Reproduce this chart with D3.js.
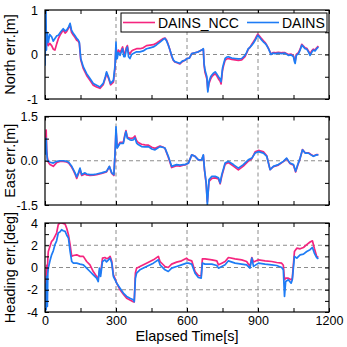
<!DOCTYPE html>
<html><head><meta charset="utf-8">
<script src="https://cdn.jsdelivr.net/npm/d3@7"></script>
<style>
html,body{margin:0;padding:0;background:#fff;}
svg{display:block;font-family:"Liberation Sans",Arial,sans-serif;}
</style></head>
<body>
<svg id="c" width="347" height="347"></svg>
<script>
const seriesNames = ["DAINS_NCC", "DAINS"];
const seriesColors = ["#f5257f", "#1e7cf5"];
const xTicks = [0, 150, 300, 450, 600, 750, 900, 1050, 1200];
const xTickLabels = ["0", "", "300", "", "600", "", "900", "", "1200"];
const xGrid = [300, 600, 900];

const northNCC = [[0,0.1],[2,0.2],[4,0.4],[6,0.2],[9,0.3],[14,0.2],[20,0.25],[28,0.2],[35,0.12],[42,0.1],[50,0.25],[56,0.35],[65,0.45],[77,0.55],[85,0.48],[92,0.52],[100,0.6],[106,0.66],[112,0.5],[120,0.43],[127,0.38],[134,0.32],[140,0.3],[145,0.25],[151,-0.12],[162,-0.32],[176,-0.47],[190,-0.58],[204,-0.69],[218,-0.73],[232,-0.76],[246,-0.68],[255,-0.53],[260,-0.42],[268,-0.53],[277,-0.68],[289,-0.62],[296,-0.3],[300,0.2],[303,-0.05],[305,-0.02],[310,0.1],[317,0.05],[322,0.1],[328,0.17],[333,0.03],[338,0.02],[343,0.15],[348,0.2],[353,0.05],[359,0.02],[366,0.08],[373,0.1],[387,0.13],[401,0.13],[415,0.15],[429,0.2],[444,0.21],[458,0.22],[472,0.26],[486,0.31],[500,0.36],[507,0.37],[514,0.32],[521,0.22],[528,0.1],[535,-0.04],[542,-0.13],[549,-0.17],[560,-0.19],[570,-0.21],[580,-0.16],[591,-0.13],[600,-0.09],[610,-0.08],[620,0.02],[634,0.04],[648,0.06],[662,0.1],[669,0.12],[672,-0.22],[676,-0.4],[684,-0.55],[688,-0.8],[693,-0.65],[700,-0.55],[705,-0.5],[712,-0.46],[719,-0.43],[726,-0.48],[733,-0.55],[740,-0.6],[744,-0.66],[750,-0.36],[755,-0.24],[761,-0.13],[768,-0.1],[775,-0.09],[789,-0.11],[803,-0.12],[817,-0.13],[831,-0.12],[845,-0.05],[852,0.03],[859,0.12],[866,0.16],[874,0.23],[881,0.29],[888,0.35],[894,0.41],[899,0.46],[907,0.41],[916,0.35],[923,0.31],[930,0.27],[937,0.21],[944,0.14],[950,0.07],[955,0.01],[963,0.04],[972,0.04],[986,0.05],[1000,0.04],[1014,0.04],[1028,0.0],[1040,0.01],[1050,-0.03],[1054,-0.12],[1057,-0.15],[1062,0.0],[1071,0.04],[1078,0.12],[1085,0.23],[1092,0.19],[1099,0.15],[1106,0.14],[1113,0.08],[1120,0.02],[1127,0.08],[1134,0.12],[1141,0.1],[1148,0.15],[1155,0.19]];

const northDAINS = [[0,-0.25],[2,0.3],[4,1.0],[6,0.1],[9,0.5],[14,0.28],[20,0.45],[28,0.4],[35,0.3],[42,0.36],[50,0.42],[56,0.43],[65,0.5],[77,0.58],[85,0.53],[92,0.55],[100,0.62],[106,0.7],[112,0.55],[120,0.47],[127,0.42],[134,0.36],[140,0.33],[145,0.28],[151,-0.09],[162,-0.28],[176,-0.43],[190,-0.54],[204,-0.65],[218,-0.69],[232,-0.73],[246,-0.65],[255,-0.5],[260,-0.39],[268,-0.5],[277,-0.65],[289,-0.58],[296,-0.24],[300,0.28],[303,-0.1],[305,-0.09],[310,0.05],[317,-0.02],[322,0.05],[328,0.13],[333,-0.05],[338,-0.05],[343,0.1],[348,0.17],[353,-0.05],[359,-0.09],[366,0.0],[373,0.02],[387,0.06],[401,0.06],[415,0.08],[429,0.13],[444,0.15],[458,0.17],[472,0.22],[486,0.28],[500,0.34],[507,0.36],[514,0.3],[521,0.21],[528,0.1],[535,-0.02],[542,-0.12],[549,-0.16],[560,-0.18],[570,-0.2],[580,-0.15],[591,-0.13],[600,-0.09],[610,-0.08],[620,0.02],[634,0.04],[648,0.06],[662,0.1],[669,0.13],[672,-0.2],[676,-0.35],[684,-0.5],[688,-0.84],[693,-0.61],[700,-0.5],[705,-0.46],[712,-0.42],[719,-0.39],[726,-0.44],[733,-0.5],[740,-0.55],[744,-0.61],[750,-0.31],[755,-0.2],[761,-0.09],[768,-0.06],[775,-0.05],[789,-0.08],[803,-0.09],[817,-0.1],[831,-0.09],[845,-0.02],[852,0.05],[859,0.13],[866,0.16],[874,0.21],[881,0.26],[888,0.32],[894,0.38],[899,0.43],[907,0.38],[916,0.32],[923,0.28],[930,0.25],[937,0.2],[944,0.13],[950,0.06],[955,0.0],[963,0.03],[972,0.02],[986,0.03],[1000,0.02],[1014,0.03],[1028,-0.02],[1040,-0.01],[1050,-0.05],[1054,-0.16],[1057,-0.2],[1062,-0.02],[1071,0.02],[1078,0.1],[1085,0.21],[1092,0.17],[1099,0.13],[1106,0.12],[1113,0.06],[1120,-0.02],[1127,0.05],[1134,0.1],[1141,0.08],[1148,0.13],[1155,0.17]];

const eastNCC = [[0,0.3],[3,0.6],[5,1.04],[7,0.4],[10,0.1],[14,-0.05],[21,-0.13],[35,-0.19],[50,-0.06],[63,-0.02],[77,-0.02],[92,-0.04],[100,-0.08],[113,-0.22],[120,-0.33],[127,-0.45],[134,-0.6],[141,-0.45],[148,-0.3],[155,-0.5],[169,-0.45],[176,-0.48],[190,-0.5],[204,-0.49],[218,-0.47],[239,-0.43],[260,-0.38],[272,-0.2],[282,-0.43],[291,-0.5],[297,0.4],[300,1.05],[305,0.45],[317,0.62],[331,0.63],[338,0.9],[342,1.02],[348,0.8],[359,0.76],[366,0.76],[373,0.78],[380,0.84],[387,0.68],[394,0.62],[408,0.56],[422,0.54],[437,0.53],[451,0.46],[465,0.42],[486,0.5],[500,0.46],[507,0.42],[521,0.12],[535,-0.23],[556,-0.17],[570,-0.18],[584,-0.15],[592,-0.14],[606,-0.08],[620,0.2],[634,0.15],[648,0.03],[662,0.03],[669,0.18],[674,-0.32],[681,-0.78],[686,-1.4],[693,-0.7],[705,-0.6],[719,-0.58],[733,-0.62],[740,-0.78],[747,-0.52],[761,-0.12],[775,-0.06],[796,-0.18],[817,-0.31],[838,-0.18],[859,-0.01],[874,0.07],[888,0.3],[902,0.35],[923,0.3],[937,0.17],[951,-0.3],[965,-0.2],[986,-0.15],[1007,-0.03],[1021,0.07],[1035,-0.09],[1050,-0.15],[1059,-0.38],[1068,-0.15],[1078,0.08],[1088,0.38],[1099,0.27],[1113,0.27],[1124,0.21],[1134,0.16],[1148,0.21],[1155,0.21]];

const eastDAINS = [[0,0.2],[3,0.5],[5,0.76],[7,0.31],[10,0.03],[14,0.0],[21,-0.05],[35,-0.08],[50,-0.02],[63,0.0],[77,0.0],[92,-0.02],[100,-0.05],[113,-0.19],[120,-0.3],[127,-0.41],[134,-0.55],[141,-0.41],[148,-0.25],[155,-0.47],[169,-0.41],[176,-0.45],[190,-0.47],[204,-0.47],[218,-0.45],[239,-0.41],[260,-0.36],[272,-0.19],[282,-0.41],[291,-0.47],[297,0.43],[300,1.15],[305,0.43],[317,0.59],[331,0.59],[338,0.85],[342,0.99],[348,0.76],[359,0.71],[366,0.7],[373,0.71],[380,0.78],[387,0.6],[394,0.55],[408,0.48],[422,0.47],[437,0.48],[451,0.4],[465,0.37],[486,0.48],[500,0.45],[507,0.43],[521,0.15],[535,-0.19],[556,-0.13],[570,-0.15],[584,-0.13],[592,-0.13],[606,-0.08],[620,0.2],[634,0.15],[648,0.03],[662,0.03],[669,0.2],[674,-0.3],[681,-0.75],[686,-1.48],[693,-0.64],[705,-0.53],[719,-0.53],[733,-0.58],[740,-0.75],[747,-0.47],[761,-0.08],[775,-0.02],[796,-0.13],[817,-0.25],[838,-0.13],[859,0.03],[874,0.09],[888,0.26],[902,0.31],[923,0.26],[937,0.15],[951,-0.3],[965,-0.19],[986,-0.13],[1007,-0.02],[1021,0.09],[1035,-0.08],[1050,-0.13],[1059,-0.36],[1068,-0.13],[1078,0.09],[1088,0.37],[1099,0.26],[1113,0.26],[1124,0.2],[1134,0.15],[1148,0.2],[1155,0.2]];

const headingNCC = [[0,-4],[3,-2],[5,-1],[7,0.2],[10,-0.5],[12,0.8],[14,1.44],[21,1.9],[28,2.35],[35,2.5],[42,2.8],[49,3.1],[56,3.85],[63,4.0],[70,4.0],[77,3.95],[85,3.9],[92,3.5],[99,2.95],[106,2.05],[113,1.0],[120,1.08],[134,1.14],[148,1.0],[162,1.0],[176,0.54],[190,0.24],[204,-0.36],[218,-0.81],[225,-0.96],[230,-0.3],[235,-0.5],[243,0.84],[253,0.9],[260,0.8],[268,0.84],[275,1.0],[282,0.55],[289,-0.66],[296,-1.0],[303,-1.41],[317,-2.0],[331,-2.4],[345,-2.77],[359,-2.92],[373,-3.07],[377,-3.1],[382,-0.5],[387,-0.06],[401,0.09],[429,0.39],[458,0.69],[479,1.0],[486,0.54],[507,0.09],[521,0.0],[535,0.3],[556,0.48],[577,0.6],[598,0.84],[606,0.69],[620,0.6],[634,-0.36],[648,-0.72],[660,-0.75],[665,0.78],[676,0.78],[705,0.69],[726,0.6],[733,0.24],[747,0.39],[761,0.54],[775,0.9],[803,0.78],[831,0.69],[852,0.54],[866,0.09],[874,0.9],[881,0.5],[902,0.69],[930,0.6],[958,0.54],[979,0.45],[1000,0.39],[1007,0.2],[1012,-1.1],[1017,-0.96],[1028,-0.96],[1040,-1.1],[1045,-0.96],[1054,1.44],[1064,1.74],[1078,1.68],[1092,1.8],[1106,2.05],[1120,2.29],[1130,2.4],[1138,1.74],[1148,1.0],[1155,0.9]];

const headingDAINS = [[0,-4],[3,-1.5],[5,-3.8],[7,-0.8],[10,-3.5],[12,-0.5],[14,-0.06],[21,0.6],[28,1.14],[35,1.5],[42,2.05],[49,2.4],[56,3.1],[63,3.2],[70,3.4],[77,3.3],[85,3.25],[92,2.9],[99,2.65],[106,1.44],[113,0.54],[120,0.39],[134,0.39],[148,0.3],[162,0.24],[176,-0.06],[190,-0.36],[204,-0.66],[218,-0.96],[225,-1.26],[230,-0.06],[235,-0.8],[243,0.54],[253,0.69],[260,0.5],[268,0.69],[275,0.84],[282,0.4],[289,-0.81],[296,-1.1],[303,-1.41],[317,-1.86],[331,-2.3],[345,-2.6],[359,-2.77],[373,-2.9],[377,-3.07],[382,-0.96],[387,-0.51],[401,-0.21],[429,0.09],[458,0.39],[479,0.69],[486,0.24],[507,-0.21],[521,-0.36],[535,-0.06],[556,0.09],[577,0.24],[598,0.39],[606,0.39],[620,0.3],[634,-0.51],[648,-0.9],[660,-0.96],[665,0.39],[676,0.3],[705,0.3],[726,0.18],[733,-0.06],[747,0.09],[761,0.24],[775,0.6],[803,0.39],[831,0.3],[852,0.24],[866,-0.06],[874,0.84],[881,0.1],[902,0.39],[930,0.3],[958,0.24],[979,0.18],[1000,0],[1007,-0.21],[1012,-2.6],[1017,-1.26],[1028,-1.1],[1040,-1.41],[1045,-1.1],[1054,1.0],[1064,0.84],[1078,1.14],[1092,1.2],[1106,1.44],[1120,1.6],[1130,1.8],[1138,1.3],[1148,0.9],[1155,0.78]];

const panels = [
  {label:"North err.[m]", domain:[-1,1], ticks:[-1,-0.5,0,0.5,1], tickLabels:{"-1":"-1","0":"0","1":"1"}, grid:[0], ncc:northNCC, dains:northDAINS, top:10, bottom:99},
  {label:"East err.[m]", domain:[-1.5,1.5], ticks:[-1.5,-0.75,0,0.75,1.5], tickLabels:{"-1.5":"-1.5","0":"0.0","1.5":"1.5"}, grid:[0], ncc:eastNCC, dains:eastDAINS, top:116.5, bottom:205},
  {label:"Heading err.[deg]", domain:[-4,4], ticks:[-4,-3,-2,-1,0,1,2,3,4], tickLabels:{"-4":"-4","-2":"-2","0":"0","2":"2","4":"4"}, grid:[-2,0,2], ncc:headingNCC, dains:headingDAINS, top:223, bottom:312}
];

const svg = d3.select("#c");
const L = 45, R = 329;
const x = d3.scaleLinear().domain([0,1200]).range([L,R]);

panels.forEach((p,i)=>{
  const y = d3.scaleLinear().domain(p.domain).range([p.bottom,p.top]);
  const g = svg.append("g");
  const cid = "clip"+i;
  svg.append("clipPath").attr("id",cid).append("rect")
    .attr("x",L).attr("y",p.top).attr("width",R-L).attr("height",p.bottom-p.top);
  g.selectAll(".vg").data(xGrid).enter().append("line")
    .attr("x1",d=>x(d)).attr("x2",d=>x(d)).attr("y1",p.top).attr("y2",p.bottom)
    .attr("stroke","#8c8c8c").attr("stroke-width",1).attr("stroke-dasharray","4,3");
  g.selectAll(".hg").data(p.grid).enter().append("line")
    .attr("x1",L).attr("x2",R).attr("y1",d=>y(d)).attr("y2",d=>y(d))
    .attr("stroke","#8c8c8c").attr("stroke-width",1).attr("stroke-dasharray","4,3");
  const line = d3.line().x(d=>x(d[0])).y(d=>y(d[1]));
  const lg = g.append("g").attr("clip-path",`url(#${cid})`);
  lg.append("path").datum(p.ncc).attr("d",line).attr("fill","none")
    .attr("stroke",seriesColors[0]).attr("stroke-width",1.7).attr("stroke-linejoin","round");
  lg.append("path").datum(p.dains).attr("d",line).attr("fill","none")
    .attr("stroke",seriesColors[1]).attr("stroke-width",1.7).attr("stroke-linejoin","round");
  const tk = 4;
  const bottomAxis = d3.axisBottom(x).tickValues(xTicks).tickSizeInner(-tk).tickSizeOuter(0)
    .tickPadding(4).tickFormat((d,j)=> i===2 ? xTickLabels[j] : "");
  const topAxis = d3.axisTop(x).tickValues(xTicks).tickSizeInner(-tk).tickSizeOuter(0).tickFormat("");
  const leftAxis = d3.axisLeft(y).tickValues(p.ticks).tickSizeInner(-tk).tickSizeOuter(0)
    .tickPadding(7).tickFormat(d=>p.tickLabels[String(d)]||"");
  const rightAxis = d3.axisRight(y).tickValues(p.ticks).tickSizeInner(-tk).tickSizeOuter(0).tickFormat("");
  [[bottomAxis,`translate(0,${p.bottom})`],[topAxis,`translate(0,${p.top})`],
   [leftAxis,`translate(${L},0)`],[rightAxis,`translate(${R},0)`]].forEach(([ax,tr])=>{
    const a = g.append("g").attr("transform",tr).call(ax);
    a.select(".domain").remove();
    a.selectAll("line").attr("stroke","#000");
    a.selectAll("text").attr("font-size","12.5px").attr("fill","#000")
      .attr("font-family","'Liberation Sans',Arial,sans-serif");
  });
  g.append("rect").attr("x",L).attr("y",p.top).attr("width",R-L).attr("height",p.bottom-p.top)
    .attr("fill","none").attr("stroke","#000").attr("stroke-width",1.2);
  g.append("text").attr("transform",`translate(15,${(p.top+p.bottom)/2}) rotate(-90)`)
    .attr("text-anchor","middle").attr("font-size","14.5px").text(p.label);
});

svg.append("text").attr("x",(L+R)/2).attr("y",340.5).attr("text-anchor","middle")
  .attr("font-size","14.5px").text("Elapsed Time[s]");

const lgd = svg.append("g");
lgd.append("rect").attr("x",121).attr("y",13).attr("width",206).attr("height",19)
  .attr("fill","#fff").attr("stroke","#000").attr("stroke-width",1);
const items = [{x1:123,x2:155,tx:158},{x1:247,x2:279,tx:282}];
items.forEach((it,k)=>{
  lgd.append("line").attr("x1",it.x1).attr("x2",it.x2).attr("y1",22.5).attr("y2",22.5)
    .attr("stroke",seriesColors[k]).attr("stroke-width",1.6);
  lgd.append("text").attr("x",it.tx).attr("y",28).attr("font-size","14px").text(seriesNames[k]);
});
</script>
</body></html>
